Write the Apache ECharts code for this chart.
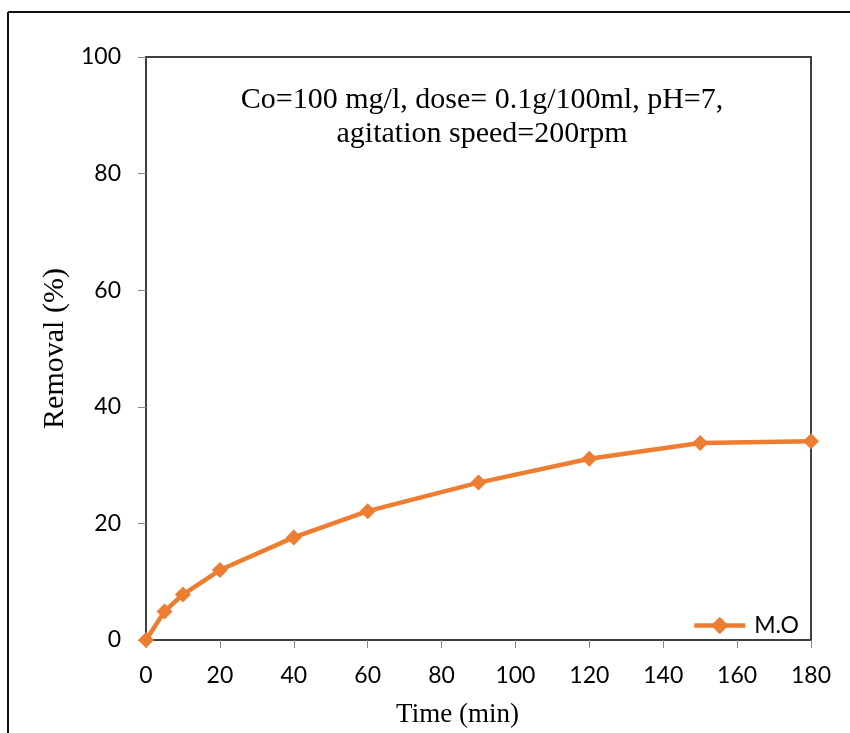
<!DOCTYPE html>
<html>
<head>
<meta charset="utf-8">
<script src="https://cdn.jsdelivr.net/npm/echarts@6/dist/echarts.min.js"></script>
<style>
  html, body { margin: 0; padding: 0; background: #fff; }
  #chart { width: 850px; height: 733px; }
</style>
</head>
<body>
<div id="chart"></div>
<script>
// data
const timeMin = [0, 5, 10, 20, 40, 60, 90, 120, 150, 180]
const removalMO = [0, 4.9, 7.8, 12, 17.6, 22.1, 27, 31.1, 33.8, 34.1]
const seriesName = 'M.O'
const noteLines = ['Co=100 mg/l, dose= 0.1g/100ml, pH=7,', 'agitation speed=200rpm']

const orange = '#ED7D31'
const chart = echarts.init(document.getElementById('chart'))

chart.setOption({
  backgroundColor: '#fff',
  animation: false,
  title: {
    text: noteLines.join('\n'),
    left: 477,
    top: 78,
    textAlign: 'center',
    textStyle: {
      fontFamily: 'Liberation Serif',
      fontSize: 30,
      fontWeight: 'normal',
      color: '#000',
      lineHeight: 34
    }
  },
  legend: {
    left: 692,
    top: 614,
    padding: 0,
    itemWidth: 51,
    itemHeight: 22,
    itemGap: 6,
    data: [seriesName],
    lineStyle: { width: 4.5, color: orange },
    textStyle: { fontFamily: 'Lato', fontSize: 23, color: '#000', padding: [0, 0, 0, 4] }
  },
  grid: {
    left: 146,
    right: 39,
    top: 57,
    bottom: 84,
    show: true,
    borderColor: '#404040',
    borderWidth: 2
  },
  xAxis: {
    type: 'value',
    min: 0,
    max: 180,
    interval: 20,
    name: 'Time (min)',
    nameLocation: 'middle',
    nameGap: 61,
    nameTextStyle: { fontFamily: 'Liberation Serif', fontSize: 27, color: '#000', padding: [0, 42, 0, 0] },
    axisLine: { show: true, lineStyle: { color: '#404040', width: 2 } },
    axisTick: { show: true, length: 8, lineStyle: { color: '#868686', width: 1 } },
    axisLabel: { fontFamily: 'Lato', fontSize: 23, color: '#000', margin: 24 },
    splitLine: { show: false }
  },
  yAxis: {
    type: 'value',
    min: 0,
    max: 100,
    interval: 20,
    name: 'Removal (%)',
    nameLocation: 'middle',
    nameGap: 71,
    nameTextStyle: { fontFamily: 'Liberation Serif', fontSize: 30, color: '#000' },
    axisLine: { show: true, lineStyle: { color: '#404040', width: 2 } },
    axisTick: { show: true, length: 8, lineStyle: { color: '#868686', width: 1 } },
    axisLabel: { fontFamily: 'Lato', fontSize: 23, color: '#000', margin: 25 },
    splitLine: { show: false }
  },
  series: [{
    name: seriesName,
    type: 'line',
    data: timeMin.map((t, i) => [t, removalMO[i]]),
    symbol: 'diamond',
    symbolSize: 16,
    lineStyle: { color: orange, width: 4.5 },
    itemStyle: { color: orange }
  }],
  graphic: [
    // outer frame (top and left edges visible in the figure)
    { type: 'line', shape: { x1: 8, y1: 12, x2: 850, y2: 12 }, style: { stroke: '#111', lineWidth: 2 } },
    { type: 'line', shape: { x1: 8, y1: 12, x2: 8, y2: 733 }, style: { stroke: '#111', lineWidth: 2 } }
  ]
})
</script>
</body>
</html>
